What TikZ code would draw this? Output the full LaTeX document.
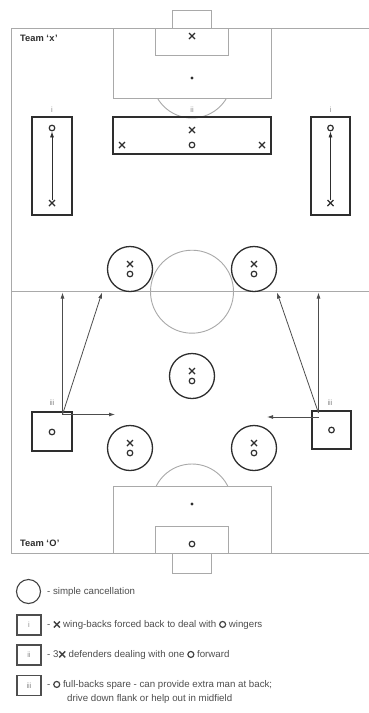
\documentclass[tikz,border=0pt]{standalone}
\usepackage{fontspec}
\setmainfont{Liberation Sans}
\usetikzlibrary{shapes.misc,arrows.meta}
\definecolor{pitchline}{HTML}{A9A9A9}
\definecolor{ink}{HTML}{2E2E2E}
\definecolor{note}{HTML}{4E4E4E}
\definecolor{tag}{HTML}{8C8C8C}
\tikzset{
  pitch/.style={draw=pitchline, line width=0.9pt},
  zone/.style={draw=ink, line width=1.3pt, minimum size=0pt, inner sep=0pt},
  cancel/.style={draw=ink, line width=1.3pt, circle, minimum size=45pt, inner sep=0pt},
  xmk/.style={draw=ink, cross out, line width=1.4pt, minimum size=4.6pt, inner sep=0pt},
  omk/.style={draw=ink, circle, line width=1.2pt, minimum size=5.6pt, inner sep=0pt},
  spot/.style={fill=ink, circle, minimum size=3.2pt, inner sep=0pt},
  tagtext/.style={text=tag, font=\fontsize{7.5}{8}\selectfont, inner sep=0pt},
  teamtext/.style={text=ink, font=\fontsize{9.3}{10}\selectfont\bfseries, inner sep=0pt, anchor=west},
  legtext/.style={text=note, font=\fontsize{9.7}{12}\selectfont, inner sep=0pt, anchor=west},
  legbox/.style={draw=note, line width=1.2pt, minimum width=24pt, minimum height=20pt, inner sep=0pt},
  run/.style={draw=ink!85, line width=0.8pt, -{Latex[length=6pt,width=4pt]}},
}
\newcommand{\inx}{\tikz[baseline=-0.6ex]\node[xmk,draw=ink!90,minimum size=4.6pt]{};}
\newcommand{\ino}{\tikz[baseline=-0.6ex]\node[omk,draw=ink!90,minimum size=6pt]{};}
\begin{document}
\begin{tikzpicture}[x=1pt,y=-1pt]
\useasboundingbox (0,0) rectangle (369,713);
\fill[white] (0,0) rectangle (369,713);

% ---- pitch markings ----
\draw[pitch] (369,28) -- (11.7,28) -- (11.7,553) -- (369,553);
\draw[pitch] (11.7,291.7) -- (369,291.7);
\node[pitch, circle, minimum size=83pt, inner sep=0pt] (centre) at (192,291.7) {};
% top end
\draw[pitch] (113,28) rectangle (271,98);
\draw[pitch] (155,28) rectangle (228,55);
\draw[pitch] (172,28) rectangle (211,10);
\begin{scope}
  \clip (100,98) rectangle (290,140);
  \draw[pitch] (192,78) circle (40);
\end{scope}
\node[spot] (pspotA) at (192,78) {};
% bottom end
\draw[pitch] (113,553) rectangle (271,486);
\draw[pitch] (155,553) rectangle (228,526);
\draw[pitch] (172,553) rectangle (211,573);
\begin{scope}
  \clip (100,486) rectangle (290,440);
  \draw[pitch] (192,504) circle (40);
\end{scope}
\node[spot] (pspotB) at (192,504) {};

% ---- team labels ----
\node[teamtext] (teamX) at (20,38.5) {Team ‘\kern0.5pt x\kern0.5pt’};
\node[teamtext] (teamO) at (20,543) {Team ‘\kern0.3pt O\kern0.3pt’};

% ---- goalkeepers ----
\node[xmk] (gkX) at (192,36) {};
\node[omk] (gkO) at (192,544) {};

% ---- zone i (wing-backs) ----
\node[zone, minimum width=40pt, minimum height=98pt] (wbL) at (52,166) {};
\node[zone, minimum width=39pt, minimum height=98pt] (wbR) at (330.5,166) {};
\node[tagtext] (tagL) at (52,110) {i};
\node[tagtext] (tagR) at (330.5,110) {i};
\node[omk] (wingL) at (52,128) {};
\node[xmk] (backL) at (52,203) {};
\node[omk] (wingR) at (330.5,128) {};
\node[xmk] (backR) at (330.5,203) {};
\draw[draw=ink, line width=0.8pt, -{Latex[length=6pt,width=4pt]}] (backL) -- (wingL);
\draw[draw=ink, line width=0.8pt, -{Latex[length=6pt,width=4pt]}] (backR) -- (wingR);

% ---- zone ii (centre-backs vs forward) ----
\node[zone, minimum width=158pt, minimum height=37pt] (cb) at (192,135.5) {};
\node[tagtext] (tagC) at (192,110) {ii};
\node[xmk] (cbM) at (192,130) {};
\node[xmk] (cbL) at (122,145) {};
\node[xmk] (cbR) at (262,145) {};
\node[omk] (fwd) at (192,145) {};

% ---- simple cancellations ----
\foreach \n/\px/\py in {c1/130/269, c2/254/269, c3/192/376, c4/130/448, c5/254/448}{
  \node[cancel] (\n) at (\px,\py) {};
  \node[xmk] (\n x) at (\px,\py-5) {};
  \node[omk] (\n o) at (\px,\py+5) {};
}

% ---- zone iii (spare full-backs) ----
\node[zone, minimum width=40pt, minimum height=39pt] (fbL) at (52,431.5) {};
\node[zone, minimum width=39pt, minimum height=38pt] (fbR) at (331.5,430) {};
\node[tagtext] (tagFL) at (52,403) {iii};
\node[tagtext] (tagFR) at (330,403) {iii};
\node[omk] (fbLo) at (52,432) {};
\node[omk] (fbRo) at (331.5,430) {};

% runs from the left full-back
\coordinate (fbLrun) at (62.5,414.5);
\coordinate (fbLup) at (62.5,292.5);
\coordinate (fbLin) at (102,292.5);
\coordinate (fbLacross) at (115,414.5);
\draw[run] (fbLrun) -- (fbLup);
\draw[run] (fbLrun) -- (fbLin);
\draw[run] (fbLrun) -- (fbLacross);
% runs from the right full-back
\coordinate (fbRrun) at (318.5,413);
\coordinate (fbRup) at (318.5,292.5);
\coordinate (fbRin) at (277,292.5);
\coordinate (fbRacross) at (267,417);
\draw[run] (fbRrun) -- (fbRup);
\draw[run] (fbRrun) -- (fbRin);
\draw[run] (318.5,417) -- (fbRacross);

% ---- key ----
\node[draw=ink!90, line width=1.1pt, circle, minimum width=24pt, inner sep=0pt] (keyC) at (28.5,591.5) {};
\node[legtext] (keyCt) at (47,591.5) {- simple cancellation};
\node[legbox] (keyI) at (29,625) {\textcolor{tag}{\fontsize{7.5}{8}\selectfont i}};
\node[legtext] (keyIt) at (47,625) {- \inx\ wing-backs forced back to deal with \ino\ wingers};
\node[legbox] (keyII) at (29,655) {\textcolor{tag}{\fontsize{7.5}{8}\selectfont ii}};
\node[legtext] (keyIIt) at (47,655) {- 3\inx\ defenders dealing with one \ino\ forward};
\node[legbox] (keyIII) at (29,685.5) {\textcolor{tag}{\fontsize{7.5}{8}\selectfont iii}};
\node[legtext] (keyIIIt) at (47,685) {- \ino\ full-backs spare - can provide extra man at back;};
\node[legtext] (keyIIIu) at (67,698.5) {drive down flank or help out in midfield};
\end{tikzpicture}
\end{document}
